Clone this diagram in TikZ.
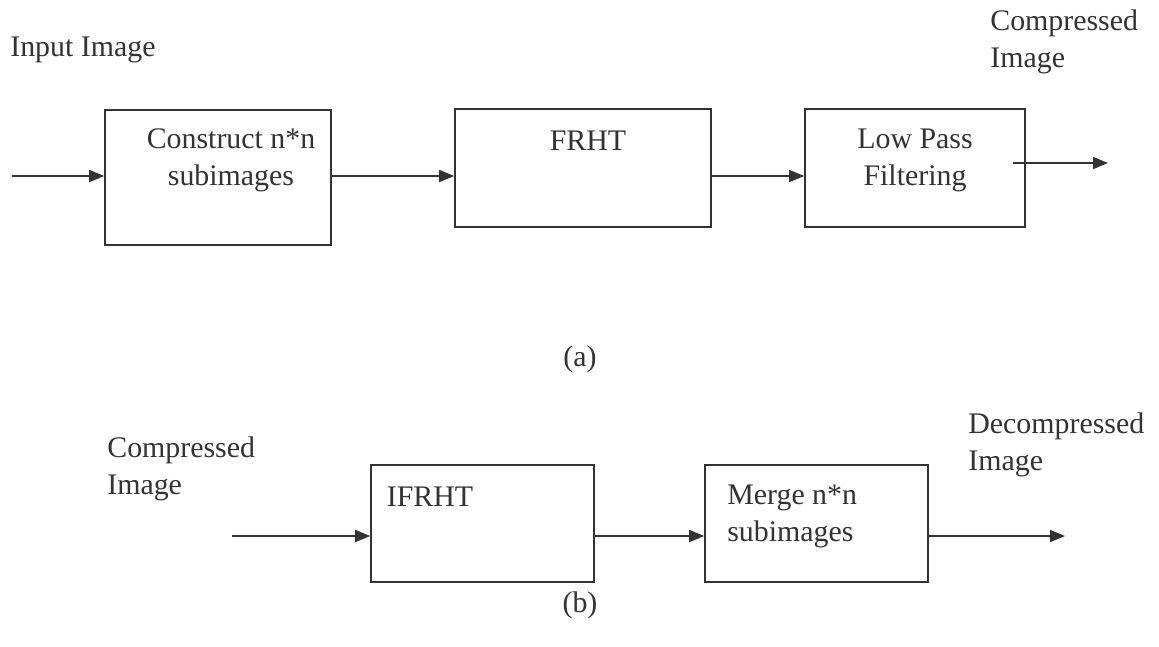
\documentclass[tikz,border=0pt]{standalone}
\usepackage{fontspec}
\setmainfont{Liberation Serif}
\usepackage{tikz}
\usetikzlibrary{arrows,arrows.meta}

\begin{document}
\begin{tikzpicture}[>={Triangle[length=3mm,width=2.4mm]},font=\fontsize{17}{21}\selectfont]
  \tikzstyle{block}=[rectangle,draw=black!80,line width=0.9pt,inner sep=0pt]
  \tikzstyle{flow}=[->,draw=black!80,line width=0.9pt]
  \tikzstyle{caption}=[text=black!80,inner sep=0pt]
  \useasboundingbox (0,0) rectangle (23.18,-12.92);
  % (a) compression
  \node [block,minimum width=4.52cm,minimum height=2.7cm] (construct) at (4.36,-3.55) {};
  \node [block,minimum width=5.12cm,minimum height=2.36cm] (frht) at (11.66,-3.36) {};
  \node [block,minimum width=4.4cm,minimum height=2.36cm] (lowpass) at (18.3,-3.36) {};
  \node [caption,align=center] (constructtxt) at (4.62,-3.2) {Construct n*n\\subimages};
  \node [caption] (frhttxt) at (11.76,-2.82) {FRHT};
  \node [caption,align=center] (lowpasstxt) at (18.3,-3.2) {Low Pass\\Filtering};
  \node [caption,anchor=west] (inimg) at (0.2,-1.0) {Input Image};
  \node [caption,anchor=west,align=left] (compimg) at (19.8,-0.84) {Compressed\\Image};
  \node [caption] (capa) at (11.6,-7.18) {(a)};
  \coordinate (ain) at (0.24,-3.52);
  \coordinate (aout) at (22.16,-3.26);
  \draw [flow] (ain) -- (ain -| construct.west);
  \draw [flow] (construct.east |- ain) -- (frht.west |- ain);
  \draw [flow] (frht.east |- ain) -- (lowpass.west |- ain);
  \draw [flow] (20.26,-3.26) -- (aout);
  % (b) decompression
  \node [block,minimum width=4.46cm,minimum height=2.34cm] (ifrht) at (9.65,-10.47) {};
  \node [block,minimum width=4.46cm,minimum height=2.34cm] (merge) at (16.33,-10.47) {};
  \node [caption] (ifrhttxt) at (8.6,-9.94) {IFRHT};
  \node [caption,anchor=west,align=left] (mergetxt) at (14.54,-10.32) {Merge n*n\\subimages};
  \node [caption,anchor=west,align=left] (compimgb) at (2.14,-9.38) {Compressed\\Image};
  \node [caption,anchor=west,align=left] (decompimg) at (19.36,-8.9) {Decompressed\\Image};
  \node [caption] (capb) at (11.6,-12.1) {(b)};
  \coordinate (bin) at (4.64,-10.72);
  \coordinate (bout) at (21.3,-10.72);
  \draw [flow] (bin) -- (bin -| ifrht.west);
  \draw [flow] (ifrht.east |- bin) -- (merge.west |- bin);
  \draw [flow] (merge.east |- bin) -- (bout);
\end{tikzpicture}
\end{document}
